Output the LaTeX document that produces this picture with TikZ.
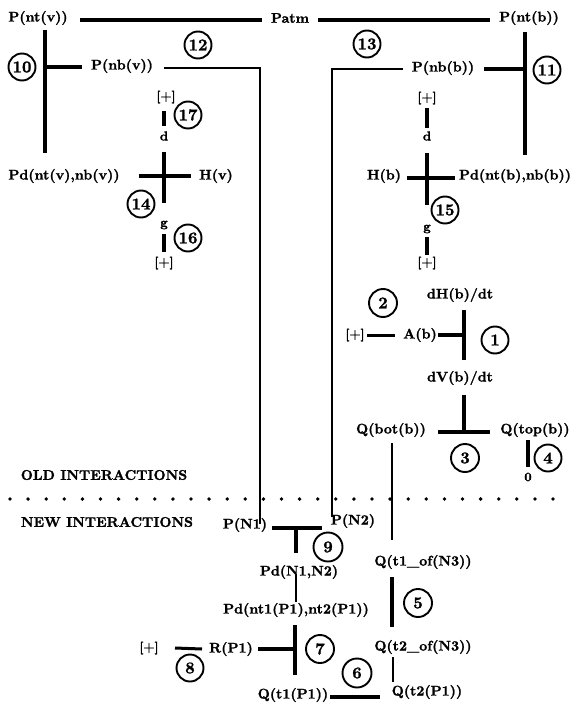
\documentclass[tikz,border=0pt]{standalone}
\usepackage{fontspec}
\setmainfont{lmroman10-regular.otf}[BoldFont=lmroman10-bold.otf,BoldFeatures={FakeBold=1.4}]
\usetikzlibrary{calc}
\begin{document}
\begin{tikzpicture}[x=1pt,y=-1pt,
 lab/.style={inner sep=1pt,font=\fontsize{14}{16}\selectfont\bfseries},
 sm/.style={inner sep=1pt,font=\fontsize{13}{15}\selectfont\bfseries},
 plus/.style={inner sep=0.5pt,font=\fontsize{12.5}{13}\selectfont\bfseries},
 num/.style={circle,draw,line width=1.9pt,minimum size=27pt,inner sep=0pt,font=\fontsize{16.5}{18}\selectfont\bfseries},
 bar/.style={line width=3.6pt},
 midbar/.style={line width=3pt},
 wire/.style={line width=1.4pt}]
\useasboundingbox (0,0) rectangle (572,709);
% text nodes
\node[lab] (pntv) at (38,18) {P(nt(v))};
\node[lab] (patm) at (290,18) {Patm};
\node[lab] (pntb) at (529,18) {P(nt(b))};
\node[lab] (pnbv) at (122,66) {P(nb(v))};
\node[lab] (pnbb) at (443,68) {P(nb(b))};
\node[lab] (pdv) at (64,176) {Pd(nt(v),nb(v))};
\node[lab] (hv) at (216,176) {H(v)};
\node[lab] (hb) at (384,176) {H(b)};
\node[lab] (pdb) at (515,176) {Pd(nt(b),nb(b))};
\node[sm] (dv) at (164,136) {d};
\node[sm] (gv) at (164,225) {g};
\node[plus] (pv1) at (166,97) {[+]};
\node[plus] (pv2) at (164,263) {[+]};
\node[sm] (db) at (427,136) {d};
\node[sm] (gb) at (427,229) {g};
\node[plus] (pb1) at (427,98) {[+]};
\node[plus] (pb2) at (427,263) {[+]};
\node[lab] (dhb) at (460,295) {dH(b)/dt};
\node[lab] (ab) at (420,335) {A(b)};
\node[plus] (pa) at (355,335) {[+]};
\node[lab] (dvb) at (460,378) {dV(b)/dt};
\node[lab] (qbot) at (391,430) {Q(bot(b))};
\node[lab] (qtop) at (535,430) {Q(top(b))};
\node[sm] (zero) at (528,477) {0};
\node[lab] (old) at (104,475) {OLD INTERACTIONS};
\node[lab] (new) at (107,522) {NEW INTERACTIONS};
\node[lab] (pn1) at (245,525) {P(N1)};
\node[lab] (pn2) at (353,521) {P(N2)};
\node[lab] (pdn) at (299,572) {Pd(N1,N2)};
\node[lab] (pdnt) at (296,610) {Pd(nt1(P1),nt2(P1))};
\node[lab] (rp) at (231,649) {R(P1)};
\node[plus] (pr) at (149,648) {[+]};
\node[lab] (qt1) at (293,695) {Q(t1(P1))};
\node[lab] (qt2) at (427,692) {Q(t2(P1))};
\node[lab] (qt1of) at (423,562) {Q(t1\_of(N3))};
\node[lab] (qt2of) at (423,647) {Q(t2\_of(N3))};
% numbered circles
\node[num] (n10) at (22,67) {10};
\node[num] (n12) at (198,45) {12};
\node[num] (n13) at (367,44) {13};
\node[num] (n11) at (547,70) {11};
\node[num] (n17) at (188,115) {17};
\node[num] (n14) at (141,204) {14};
\node[num] (n16) at (188,238) {16};
\node[num] (n15) at (445,210) {15};
\node[num,minimum size=28pt] (n2) at (383,303) {2};
\node[num] (n1) at (495,340) {1};
\node[num,minimum size=28pt] (n3) at (465,458) {3};
\node[num] (n4) at (548,458) {4};
\node[num,minimum size=29pt] (n9) at (328,547) {9};
\node[num,minimum size=28pt] (n5) at (418,603) {5};
\node[num,minimum size=28pt] (n7) at (320,649) {7};
\node[num] (n8) at (190,668) {8};
\node[num,minimum size=29pt] (n6) at (357,673) {6};
% separator dots
\foreach \i in {0,...,30} \fill (10+18.1*\i,499) circle (1.9pt);
% interactions 12, 13
\draw[bar] ($(pntv)+(42,2)$) -- ($(patm)+(-28,2)$);
\draw[bar] ($(patm)+(28,2)$) -- ($(pntb)+(-39,2)$);
% interaction 10
\draw[bar] ($(pntv)+(7,12)$) -- ($(pdv)+(-19,-23)$);
\draw[bar] ($(pnbv)+(-77,1)$) -- ($(pnbv)+(-40,1)$);
% interaction 11
\draw[bar] ($(pntb)+(-4,14)$) -- ($(pdb)+(10,-21)$);
\draw[bar] ($(pnbb)+(41,1)$) -- ($(pnbb)+(82,1)$);
% wires to new interactions
\draw[wire] ($(pnbv)+(42,2)$) -| ($(pn1)+(15,-1)$);
\draw[wire] ($(pnbb)+(-40,1)$) -| ($(pn2)+(-21,-4)$);
% interaction 14, 16, 17
\draw[bar] ($(pv1)+(-2,14)$) -- ($(dv)+(0,-10)$);
\draw[bar] ($(dv)+(0,16)$) -- ($(gv)+(0,-22)$);
\draw[bar] ($(pdv)+(75,0)$) -- ($(hv)+(-25,0)$);
\draw[bar] ($(gv)+(0,9)$) -- ($(pv2)+(0,-11)$);
% interaction 15
\draw[bar] ($(pb1)+(0,10)$) -- ($(db)+(0,-8)$);
\draw[bar] ($(db)+(0,17)$) -- ($(gb)+(0,-24)$);
\draw[bar] ($(hb)+(23,2)$) -- ($(pdb)+(-60,2)$);
\draw[bar] ($(gb)+(0,8)$) -- ($(pb2)+(0,-8)$);
% interactions 1, 2
\draw[bar] ($(dhb)+(4,15)$) -- ($(dvb)+(4,-18)$);
\draw[bar] ($(ab)+(18,0)$) -- ($(dhb)+(4,40)$);
\draw[midbar] ($(pa)+(12,0)$) -- ($(ab)+(-25,0)$);
% interaction 3, 4
\draw[bar] ($(dvb)+(4,17)$) -- ($(dvb)+(4,54)$);
\draw[bar] ($(qbot)+(47,2)$) -- ($(qtop)+(-45,2)$);
\draw[bar] ($(zero)+(0,-37)$) -- ($(zero)+(0,-10)$);
% link Q(bot(b)) to Q(t1_of(N3))
\draw[wire] ($(qbot)+(1,13)$) -- ($(qt1of)+(-31,-22)$);
% interaction 5
\draw[bar] ($(qt1of)+(-31,15)$) -- ($(qt2of)+(-31,-20)$);
\draw[wire] ($(qt2of)+(-30,10)$) -- ($(qt2)+(-34,-10)$);
% interaction 6
\draw[bar] ($(qt1)+(37,2)$) -- ($(qt2)+(-47,5)$);
% interaction 9
\draw[bar] ($(pn1)+(27,3)$) -- ($(pn2)+(-31,7)$);
\draw[bar] ($(pdn)+(-3,-44)$) -- ($(pdn)+(-3,-19)$);
\draw[wire] ($(pdn)+(-3,2)$) -- ($(pdnt)+(0,-8)$);
% interaction 7, 8
\draw[bar] ($(pdnt)+(-1,15)$) -- ($(qt1)+(2,-20)$);
\draw[bar] ($(rp)+(27,0)$) -- ($(pdnt)+(-1,39)$);
\draw[midbar] ($(pr)+(26,0)$) -- ($(rp)+(-29,0)$);
\end{tikzpicture}
\end{document}
